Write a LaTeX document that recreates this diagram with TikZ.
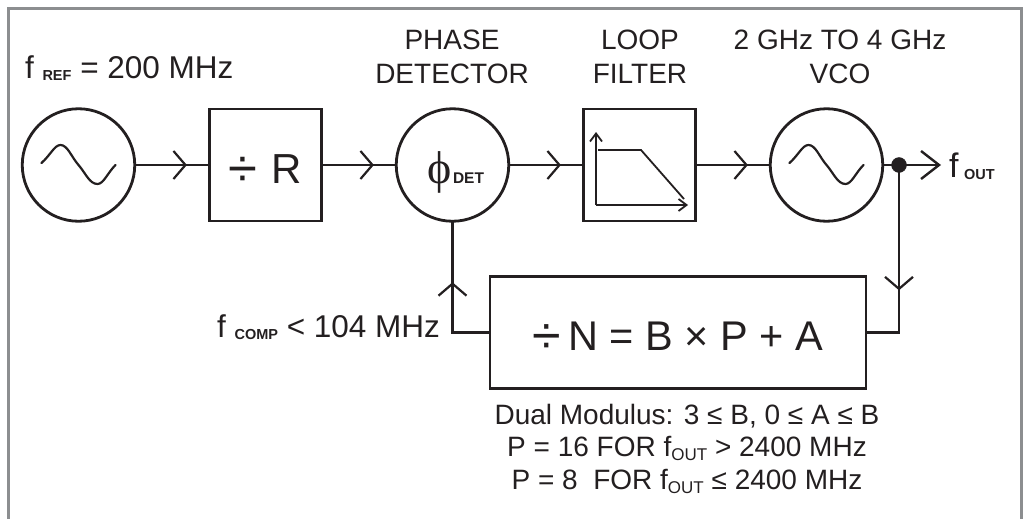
\documentclass[tikz,border=0pt]{standalone}
\usepackage{fontspec}
\setmainfont{Liberation Sans}
\newfontfamily\phifont{Liberation Serif}
\usetikzlibrary{arrows.meta,positioning,decorations.markings}
\definecolor{inkdark}{HTML}{231F20}
\definecolor{framegray}{HTML}{8C8E90}
\newcommand{\subbold}[1]{\raisebox{-2.5pt}{\fontsize{14.5}{14.5}\selectfont\bfseries #1}}
\newcommand{\subthin}[1]{\raisebox{-4pt}{\fontsize{17}{17}\selectfont #1}}
\newcommand{\bigdiv}[1]{\raisebox{-3.5pt}{\scalebox{#1}{÷}}}
\tikzset{
    sinewave/.pic={
        \draw[line width=2.2pt, line cap=round] (-37,-2) .. controls (-28,-10) and (-24,-20) .. (-18,-20)
            .. controls (-11,-20) and (-7,-8) .. (0,0) .. controls (7,8) and (11,19) .. (19,19)
            .. controls (25,19) and (29,8) .. (37,0);
    }
}
\begin{document}
\begin{tikzpicture}[
    x=1pt, y=-1pt,
    font=\fontsize{28}{33}\selectfont,
    color=inkdark,
    every node/.style={outer sep=0pt, inner sep=0pt},
    wire/.style={line width=2.4pt},
    block/.style={draw, line width=2.8pt, minimum width=112.5pt, minimum height=112pt, align=center},
    disc/.style={draw, circle, line width=2.8pt, minimum size=112.5pt, align=center},
    midtip/.style={postaction={decorate}, decoration={markings, mark=at position #1 with {\arrow[line width=2.2pt]{Straight Barb[length=12pt, width=28pt]}}}},
    title/.style={align=center, anchor=base}
]
\useasboundingbox (0,0) rectangle (1028,519);
\draw[framegray, line width=3pt] (8,519) |- (1021,9) -- (1021,519);

\node[disc] (ref) at (78.5,165) {};
\node[block, right=74.5pt of ref, text height=36pt, text depth=0pt, font=\fontsize{42}{42}\selectfont] (divr) {\bigdiv{1.25}\,\,R};
\node[disc, right=74.5pt of divr] (det) {};
\node[block, right=74.5pt of det] (filter) {};
\node[disc, right=74.5pt of filter] (vco) {};
\node[draw, circle, fill=inkdark, minimum size=15pt] (tap) at (899,165) {};
\coordinate (outend) at (941,165);
\node[draw, line width=2.8pt, minimum width=376pt, minimum height=112pt, text height=35pt, text depth=0pt, font=\fontsize{41.5}{42}\selectfont] (ndiv) at (678,332.5) {\bigdiv{1.25}\,N = B × P + A};

\pic at (ref) {sinewave};
\pic at (vco) {sinewave};

% phi inside the detector
\node[anchor=base west] (phi) at (427,183) {\phifont\fontsize{46}{46}\selectfont ϕ};
\node[anchor=base west] (detsub) at (453,183) {\fontsize{15.5}{15.5}\selectfont\bfseries DET};

% low pass curve
\draw[line width=1.8pt, -{Straight Barb[length=8pt, width=12pt]}] (596,205) -- (596,132);
\draw[line width=1.8pt, -{Straight Barb[length=8pt, width=12pt]}] (596,205) -- (688,205);
\draw[line width=1.8pt] (598,150) -- (641,150) -- (684,199);

\foreach \i/\j in {ref/divr, divr/det, det/filter, filter/vco}
  \draw[wire, midtip=0.7] (\i.east) -- (\j.west);
\draw[wire] (vco.east) -- (tap.center);
\draw[wire, -{Straight Barb[length=18pt, width=28pt]}] (tap.center) -- (outend);
\draw[wire, midtip=0.625] (tap.center) |- (ndiv.east);
\draw[wire, midtip=0.59] (ndiv.west) -| (det.south);

\node[anchor=base west] (lblref) at (25,78) {\fontsize{31.5}{32}\selectfont f \subbold{REF} = 200 MHz};
\node[title] (lbldet) at (452,83) {PHASE\\DETECTOR};
\node[title] (lblfilter) at (640,83) {LOOP\\FILTER};
\node[title] (lblvco) at (840,83) {2 GHz TO 4 GHz\\VCO};
\node[anchor=base west] (lblout) at (949,177) {\fontsize{34}{34}\selectfont f\,\subbold{OUT}};
\node[anchor=base east] (lblcomp) at (440,337) {\fontsize{31.5}{32}\selectfont f \subbold{COMP} < 104 MHz};
\node[below=15.5pt of ndiv, xshift=9pt, align=center, font=\fontsize{28}{32.5}\selectfont] (notes) {Dual Modulus: 3 ≤ B, 0 ≤ A ≤ B\\P = 16 FOR f\subthin{OUT} > 2400 MHz\\P = 8~ FOR f\subthin{OUT} ≤ 2400 MHz};
\end{tikzpicture}
\end{document}
